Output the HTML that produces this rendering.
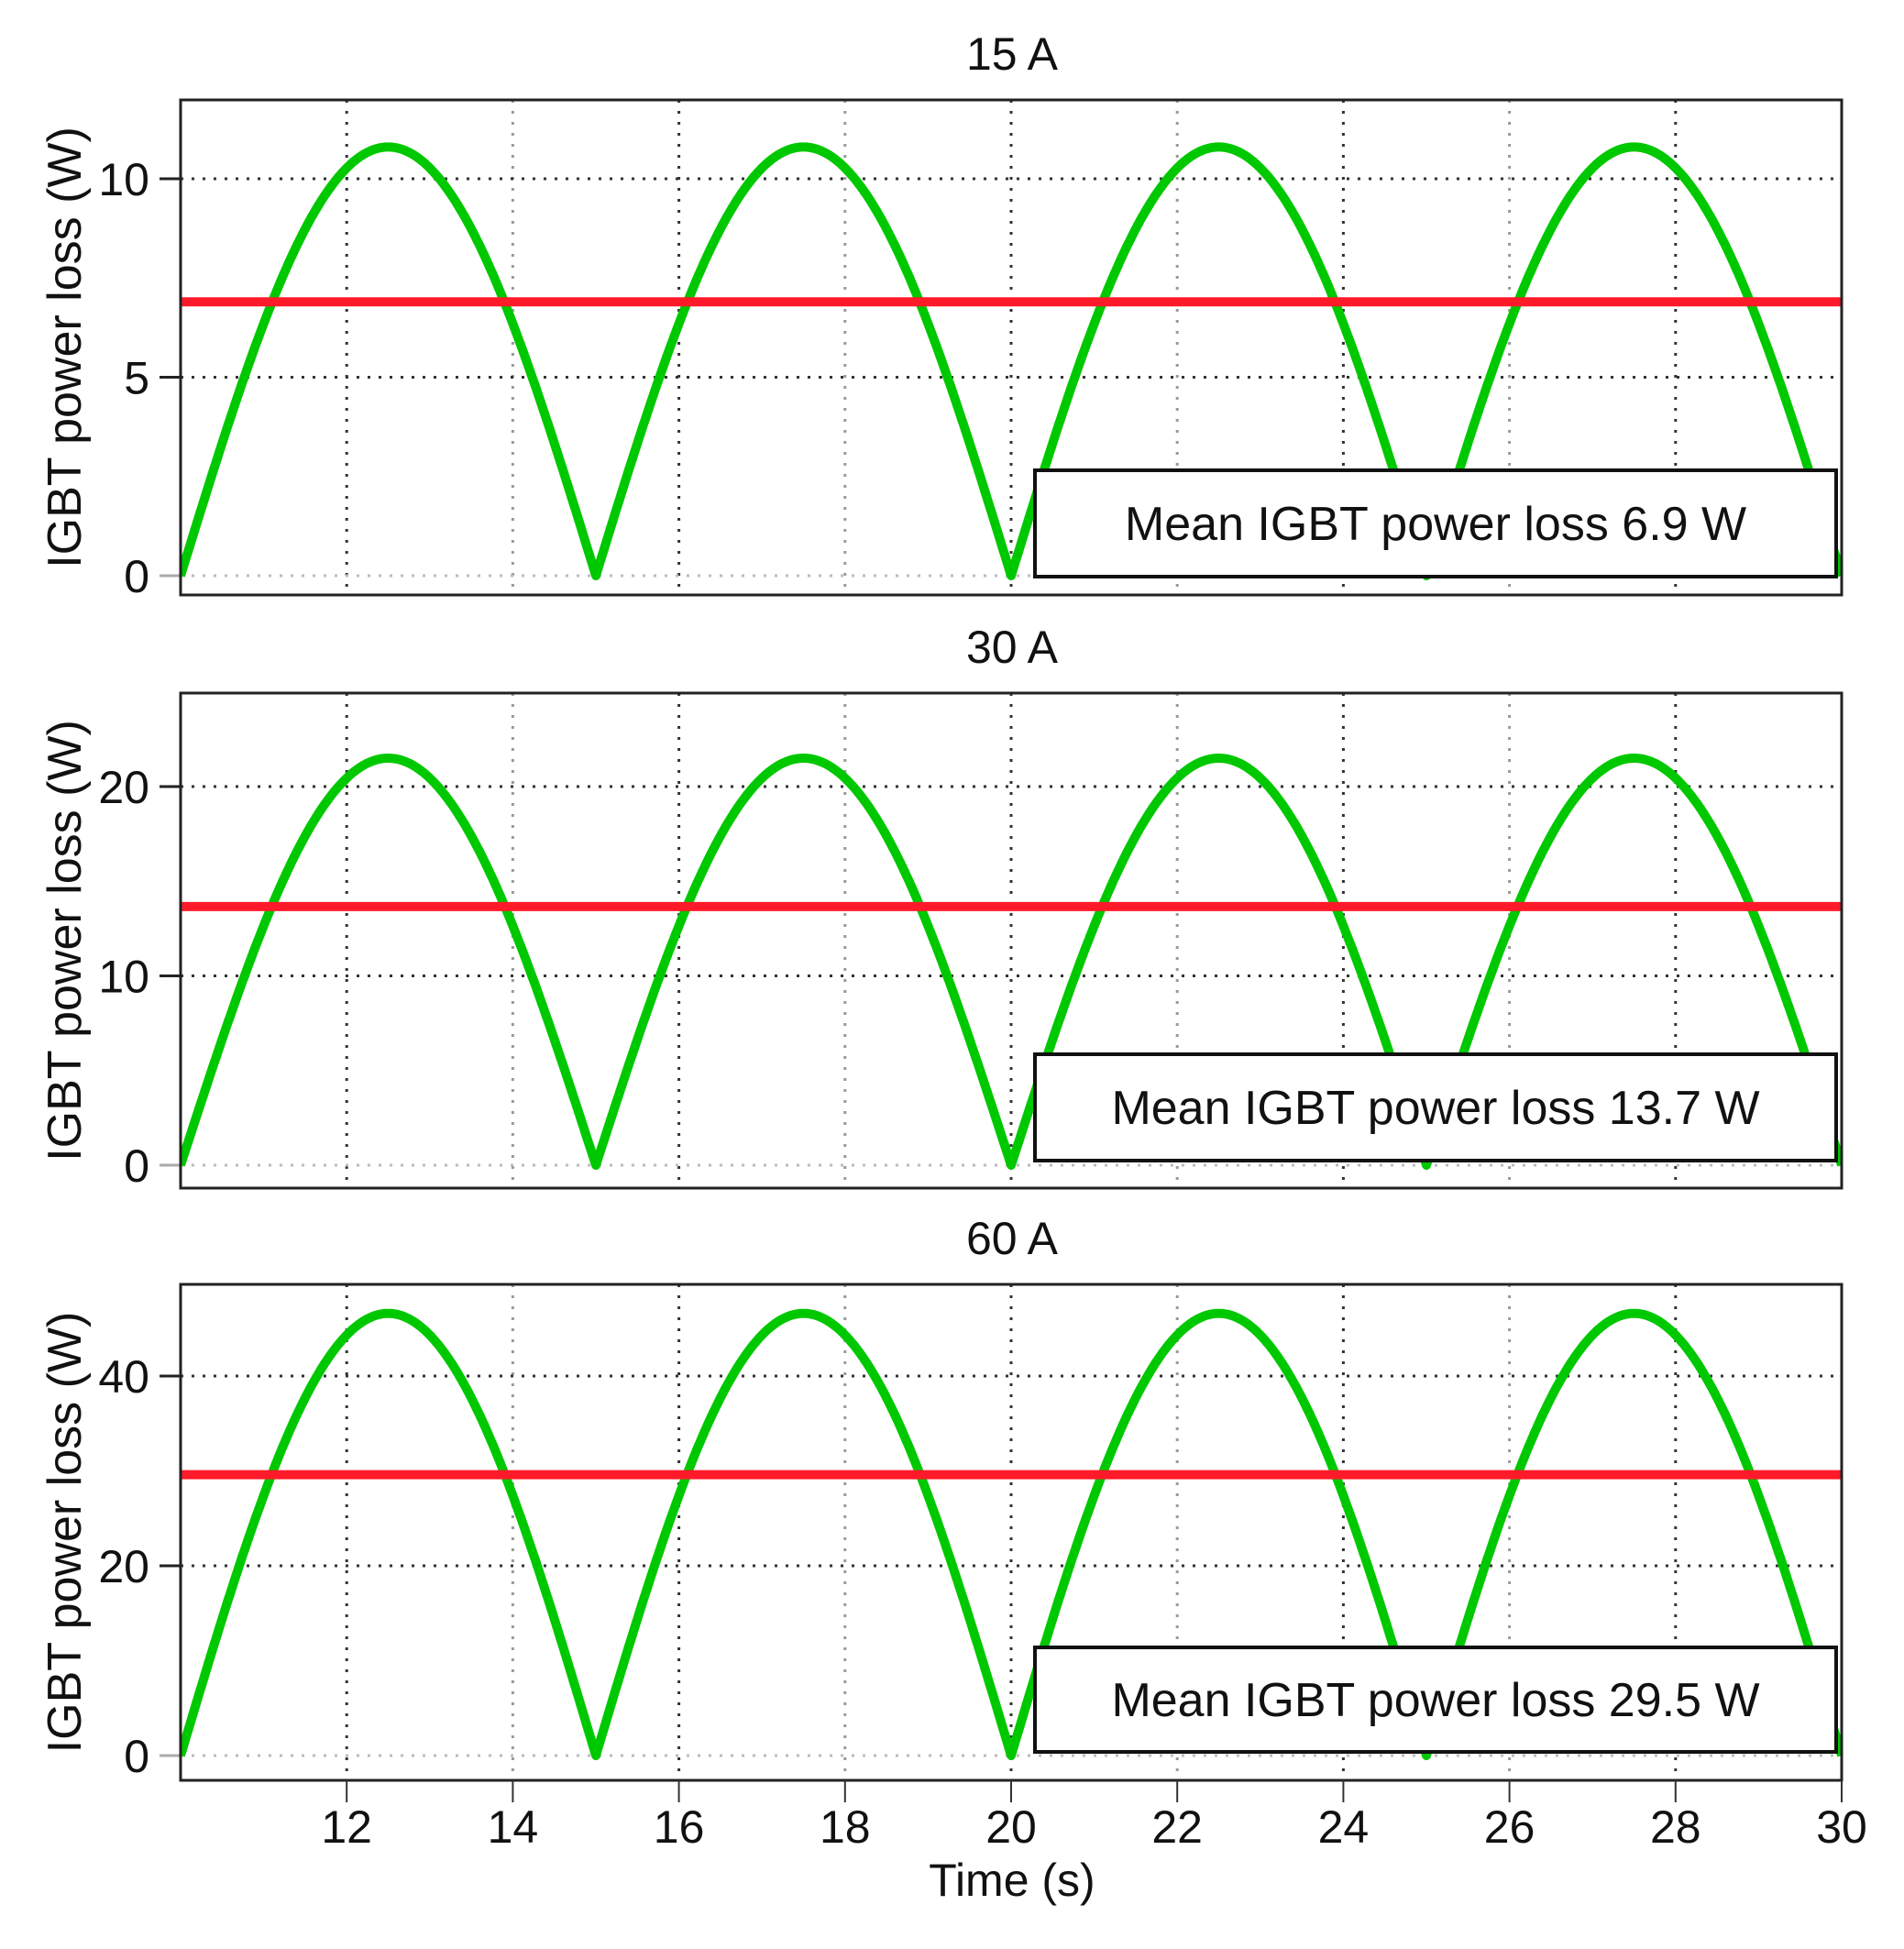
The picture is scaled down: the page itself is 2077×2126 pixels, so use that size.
<!DOCTYPE html>
<html><head><meta charset="utf-8"><style>
html,body{margin:0;padding:0;background:#fff;}
svg{display:block;}
text{font-family:"Liberation Sans",Arial,sans-serif;fill:#111;}
</style></head><body>
<svg id="s" width="2077" height="2126" viewBox="0 0 2077 2126" xmlns="http://www.w3.org/2000/svg"></svg>
<script>
var s=document.getElementById('s');var h='';
var L=197,R=2009;
function X(t){return L+(t-10)*(R-L)/20;}
var panels=[
 {top:109,bot:649,y0:628,ppu:43.3,ticks:[0,5,10],peak:10.8,mean:6.9,title:'15 A',label:'Mean IGBT power loss 6.9 W',bt:513,bb:629},
 {top:756,bot:1296,y0:1271,ppu:20.65,ticks:[0,10,20],peak:21.5,mean:13.66,title:'30 A',label:'Mean IGBT power loss 13.7 W',bt:1150,bb:1266},
 {top:1401,bot:1942,y0:1915,ppu:10.35,ticks:[0,20,40],peak:46.6,mean:29.6,title:'60 A',label:'Mean IGBT power loss 29.5 W',bt:1797,bb:1911}
];
panels.forEach(function(p){
 var cy=(p.top+p.bot)/2;
 h+='<text x="1104" y="'+(p.top-33)+'" font-size="50" text-anchor="middle">'+p.title+'</text>';
 h+='<text transform="translate(88,'+cy+') rotate(-90)" font-size="52" text-anchor="middle">IGBT power loss (W)</text>';
 for(var t=12;t<=28;t+=2){var x=X(t);h+='<line x1="'+x+'" y1="'+p.top+'" x2="'+x+'" y2="'+p.bot+'" stroke="'+(t%4==0?'#333':'#999')+'" stroke-width="3" stroke-dasharray="3,9"/>';}
 p.ticks.forEach(function(v){var y=p.y0-v*p.ppu;
  h+='<line x1="'+L+'" y1="'+y+'" x2="'+R+'" y2="'+y+'" stroke="'+(v==0?'#bbb':'#333')+'" stroke-width="3" stroke-dasharray="3,9"/>';
  h+='<line x1="174" y1="'+y+'" x2="'+L+'" y2="'+y+'" stroke="'+(v==0?'#aaa':'#222')+'" stroke-width="3"/>';
  h+='<text x="163" y="'+(y+18)+'" font-size="50" text-anchor="end">'+v+'</text>';
 });
 var d='';for(var i=0;i<=2000;i++){var t=10+i*0.01;var v=p.peak*Math.abs(Math.sin(Math.PI*(t-10)/5));d+=(i?'L':'M')+X(t).toFixed(1)+' '+(p.y0-v*p.ppu).toFixed(1);}
 h+='<clipPath id="c'+p.top+'"><rect x="'+L+'" y="'+p.top+'" width="'+(R-L)+'" height="'+(p.bot-p.top)+'"/></clipPath>';
 h+='<g clip-path="url(#c'+p.top+')"><path d="'+d+'" fill="none" stroke="#00c800" stroke-width="10" stroke-linejoin="round"/>';
 var ym=p.y0-p.mean*p.ppu;
 h+='<line x1="'+L+'" y1="'+ym+'" x2="'+R+'" y2="'+ym+'" stroke="#ff1a2a" stroke-width="10"/></g>';
 h+='<rect x="1129" y="'+p.bt+'" width="874" height="'+(p.bb-p.bt)+'" fill="#fff" stroke="#111" stroke-width="4"/>';
 h+='<text x="1566" y="'+((p.bt+p.bb)/2+18)+'" font-size="52" text-anchor="middle">'+p.label+'</text>';
 h+='<rect x="'+L+'" y="'+p.top+'" width="'+(R-L)+'" height="'+(p.bot-p.top)+'" fill="none" stroke="#222" stroke-width="3"/>';
});
for(var t=12;t<=30;t+=2){h+='<line x1="'+X(t)+'" y1="1942" x2="'+X(t)+'" y2="1966" stroke="#333" stroke-width="2"/>';h+='<text x="'+X(t)+'" y="2010" font-size="50" text-anchor="middle">'+t+'</text>';}
h+='<text x="1104" y="2068" font-size="50" text-anchor="middle">Time (s)</text>';
s.innerHTML=h;
</script>
</body></html>
